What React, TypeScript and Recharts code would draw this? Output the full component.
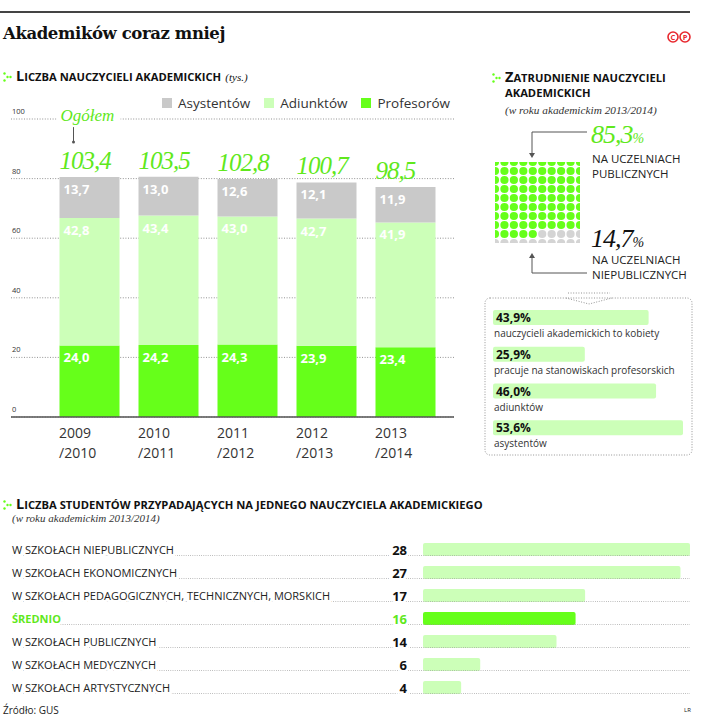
import React from "react";
import {
  BarChart,
  Bar,
  XAxis,
  YAxis,
  CartesianGrid,
  ReferenceLine,
  LabelList,
  ScatterChart,
  Scatter,
  Cell,
} from "recharts";

// --- data ---
const years = ["2009/2010", "2010/2011", "2011/2012", "2012/2013", "2013/2014"];
const profesorow = [24.0, 24.2, 24.3, 23.9, 23.4];
const adiunktow = [42.8, 43.4, 43.0, 42.7, 41.9];
const asystentow = [13.7, 13.0, 12.6, 12.1, 11.9];
const ogolem = [103.4, 103.5, 102.8, 100.7, 98.5];
const yTicks = [0, 20, 40, 60, 80, 100];

const publiczne = 85.3;
const niepubliczne = 14.7;

const boxLabels = [
  "nauczycieli akademickich to kobiety",
  "pracuje na stanowiskach profesorskich",
  "adiunktów",
  "asystentów",
];
const boxValues = [43.9, 25.9, 46.0, 53.6];

const schoolLabels = [
  "W SZKOŁACH NIEPUBLICZNYCH",
  "W SZKOŁACH EKONOMICZNYCH",
  "W SZKOŁACH PEDAGOGICZNYCH, TECHNICZNYCH, MORSKICH",
  "ŚREDNIO",
  "W SZKOŁACH PUBLICZNYCH",
  "W SZKOŁACH MEDYCZNYCH",
  "W SZKOŁACH ARTYSTYCZNYCH",
];
const schoolValues = [28, 27, 17, 16, 14, 6, 4];
const highlight = "ŚREDNIO";

// --- styles ---
const GREEN = "#66ff1a";
const GREEN_TEXT = "#5fe81c";
const LIGHT = "#ccffb8";
const GRAY = "#c9c9c9";
const SANS = "'Open Sans', sans-serif";
const SERIF = "'Liberation Serif', serif";

const series = [
  { key: "asy", name: "Asystentów", color: GRAY },
  { key: "adi", name: "Adiunktów", color: LIGHT },
  { key: "prof", name: "Profesorów", color: GREEN },
];

const mainData = years.map((year, i) => ({
  year,
  prof: profesorow[i],
  adi: adiunktow[i],
  asy: asystentow[i],
  total: ogolem[i],
}));

const waffle = Array.from({ length: 100 }, (_, i) => ({
  col: i % 10,
  row: Math.floor(i / 10),
  pub: i < Math.round(publiczne),
}));

const boxData = boxLabels.map((label, i) => ({ label, value: boxValues[i] }));
const schoolData = schoolLabels.map((label, i) => ({ label, value: schoolValues[i] }));

const fmt = (v: number) => Number(v).toFixed(1).replace(".", ",");

function Marker() {
  return (
    <svg width={9} height={10} style={{ marginRight: 4, verticalAlign: "-1px" }}>
      <circle cx={1.5} cy={1.5} r={1.2} fill={GREEN} />
      <circle cx={4.5} cy={5} r={1.2} fill={GREEN} />
      <circle cx={1.5} cy={8.5} r={1.2} fill={GREEN} />
      <circle cx={7.5} cy={5} r={1.2} fill={GREEN} />
    </svg>
  );
}

// small caps header: first letter big, rest smaller capitals
function Caps({ text }: { text: string }) {
  return (
    <>
      <span style={{ fontSize: 14.5 }}>{text[0].toUpperCase()}</span>
      <span style={{ fontSize: 11.2, textTransform: "uppercase" }}>{text.slice(1)}</span>
    </>
  );
}

const headStyle: React.CSSProperties = {
  position: "absolute",
  fontFamily: SANS,
  fontWeight: 700,
  color: "#111",
  whiteSpace: "nowrap",
  lineHeight: "16px",
};

const subStyle: React.CSSProperties = {
  position: "absolute",
  fontFamily: SERIF,
  fontStyle: "italic",
  fontSize: 11,
  color: "#333",
  whiteSpace: "nowrap",
};

function YearTick(props: any) {
  const { x, payload } = props;
  const [a, b] = String(payload.value).split("/");
  const left = Number(x) - 30;
  return (
    <text fontFamily={SANS} fontSize={14} fill="#333">
      <tspan x={left} y={438}>{a}</tspan>
      <tspan x={left} y={458}>/{b}</tspan>
    </text>
  );
}

function ValueTick(props: any) {
  const { y, payload } = props;
  return (
    <text x={12} y={Number(y) - 5} fontFamily={SANS} fontSize={7.5} fill="#333">
      {payload.value}
    </text>
  );
}

function InnerLabel(props: any) {
  const { x, y, value } = props;
  return (
    <text x={Number(x) + 4} y={Number(y) + 17} fill="#fff" fontFamily={SANS} fontWeight={700} fontSize={13}>
      {fmt(value)}
    </text>
  );
}

function TotalLabel(props: any) {
  const { x, y, value, index } = props;
  const bx = Number(x);
  const by = Number(y);
  return (
    <g>
      {index === 0 && (
        <g>
          <rect x={bx - 3} y={by - 72} width={64} height={20} fill="#fff" />
          <text x={bx + 1} y={by - 56} fill={GREEN_TEXT} fontFamily={SERIF} fontStyle="italic" fontSize={17}>
            Ogółem
          </text>
          <line x1={bx + 14} x2={bx + 14} y1={by - 50} y2={by - 36} stroke="#555" strokeWidth={1} />
          <circle cx={bx + 14} cy={by - 35} r={1.5} fill="#555" />
        </g>
      )}
      <text x={bx} y={by - 8} fill={GREEN_TEXT} fontFamily={SERIF} fontStyle="italic" fontSize={25} letterSpacing={-1}>
        {fmt(value)}
      </text>
    </g>
  );
}

function WaffleDot(props: any) {
  const { cx, cy, payload } = props;
  return <circle cx={cx} cy={cy} r={4.1} fill={payload.pub ? GREEN : "#d4d4d4"} />;
}

function BoxValue(props: any) {
  const { x, y, value } = props;
  return (
    <text x={Number(x) + 3} y={Number(y) + 12} fontFamily={SANS} fontWeight={700} fontSize={12} fill="#111">
      {fmt(value)}%
    </text>
  );
}

function BoxCaption(props: any) {
  const { x, y, height, value } = props;
  return (
    <text x={Number(x) + 1} y={Number(y) + Number(height) + 12} fontFamily={SANS} fontSize={10} fill="#333">
      {value}
    </text>
  );
}

function SchoolTick(props: any) {
  const { y, payload } = props;
  const hi = payload.value === highlight;
  const cy = Number(y);
  return (
    <g>
      <line x1={12} x2={690} y1={cy + 6} y2={cy + 6} stroke="#9a9a9a" strokeWidth={0.8} strokeDasharray="0.8 1.4" />
      <text
        x={12}
        y={cy + 4}
        fontFamily={SANS}
        fontSize={11}
        fontWeight={hi ? 700 : 400}
        fill={hi ? GREEN_TEXT : "#222"}
        stroke="#fff"
        strokeWidth={5}
        paintOrder="stroke"
      >
        {payload.value}
      </text>
    </g>
  );
}

function SchoolValue(props: any) {
  const { x, y, height, value, index } = props;
  const hi = schoolLabels[index] === highlight;
  return (
    <text
      x={Number(x) - 16}
      y={Number(y) + Number(height) / 2 + 5}
      textAnchor="end"
      fontFamily={SANS}
      fontWeight={700}
      fontSize={13}
      fill={hi ? GREEN_TEXT : "#111"}
      stroke="#fff"
      strokeWidth={5}
      paintOrder="stroke"
    >
      {value}
    </text>
  );
}

export default function App() {
  return (
    <div style={{ position: "relative", width: 714, height: 722, background: "#fff", fontFamily: SANS, overflow: "hidden" }}>
      <style>{"body{margin:0}"}</style>

      {/* top rule + title */}
      <div style={{ position: "absolute", left: 0, top: 11, width: 690, height: 1.5, background: "#444" }} />
      <div
        style={{
          position: "absolute",
          left: 3,
          top: 24,
          fontFamily: "'DejaVu Serif', serif",
          fontWeight: 700,
          fontSize: 16.5,
          letterSpacing: -0.4,
          color: "#111",
        }}
      >
        Akademików coraz mniej
      </div>
      <svg width={30} height={16} style={{ position: "absolute", left: 666, top: 29 }}>
        {["C", "P"].map((c, i) => (
          <g key={c}>
            <circle cx={7 + i * 12} cy={8} r={5} fill="none" stroke="#e8282e" strokeWidth={1.6} />
            <text x={7 + i * 12} y={10.8} textAnchor="middle" fontSize={7.5} fontWeight={700} fill="#e8282e" fontFamily={SANS}>
              {c}
            </text>
          </g>
        ))}
      </svg>

      {/* main chart header */}
      <div style={{ ...headStyle, left: 3, top: 67 }}>
        <Marker />
        <Caps text="Liczba nauczycieli akademickich" />{" "}
        <span style={{ fontFamily: SERIF, fontStyle: "italic", fontWeight: 400, fontSize: 11 }}>(tys.)</span>
      </div>

      {/* legend */}
      <div style={{ position: "absolute", left: 162, top: 94, display: "flex", gap: 14, fontSize: 13.5, color: "#333", whiteSpace: "nowrap" }}>
        {series.map((s) => (
          <div key={s.key} style={{ display: "flex", alignItems: "center" }}>
            <span style={{ display: "inline-block", width: 10, height: 10, background: s.color, marginRight: 6 }} />
            {s.name}
          </div>
        ))}
      </div>

      {/* main stacked bars */}
      <div style={{ position: "absolute", left: 0, top: 0 }}>
        <BarChart width={470} height={480} data={mainData} margin={{ top: 119, right: 16, left: 0, bottom: 0 }}>
          <CartesianGrid vertical={false} stroke="#777" strokeWidth={0.8} strokeDasharray="1 1.6" />
          <XAxis
            dataKey="year"
            axisLine={false}
            tickLine={false}
            height={63}
            interval={0}
            padding={{ left: 38.5, right: 9.5 }}
            tick={YearTick}
          />
          <YAxis width={11} domain={[0, 100]} ticks={yTicks} interval={0} axisLine={false} tickLine={false} tick={ValueTick} />
          <Bar dataKey="prof" stackId="a" fill={GREEN} barSize={60} isAnimationActive={false}>
            <LabelList dataKey="prof" content={InnerLabel} />
          </Bar>
          <Bar dataKey="adi" stackId="a" fill={LIGHT} barSize={60} isAnimationActive={false}>
            <LabelList dataKey="adi" content={InnerLabel} />
          </Bar>
          <Bar dataKey="asy" stackId="a" fill={GRAY} barSize={60} isAnimationActive={false}>
            <LabelList dataKey="asy" content={InnerLabel} />
            <LabelList dataKey="total" content={TotalLabel} />
          </Bar>
          <ReferenceLine y={0} stroke="#555" strokeWidth={1.5} />
        </BarChart>
      </div>

      {/* right panel */}
      <div style={{ ...headStyle, left: 492, top: 68 }}>
        <Marker />
        <Caps text="Zatrudnienie nauczycieli" />
      </div>
      <div style={{ ...headStyle, left: 505, top: 85, fontSize: 11.2 }}>AKADEMICKICH</div>
      <div style={{ ...subStyle, left: 505, top: 104, fontSize: 11.3 }}>(w roku akademickim 2013/2014)</div>

      <div style={{ position: "absolute", left: 485, top: 152 }}>
        <ScatterChart width={105} height={101} margin={{ top: 10, right: 10, bottom: 10, left: 10 }}>
          <XAxis type="number" dataKey="col" domain={[0, 9]} allowDataOverflow hide />
          <YAxis type="number" dataKey="row" domain={[0, 9]} allowDataOverflow reversed hide />
          <Scatter data={waffle} shape={WaffleDot} isAnimationActive={false} />
        </ScatterChart>
      </div>

      <svg width={714} height={722} style={{ position: "absolute", left: 0, top: 0, pointerEvents: "none" }}>
        <polyline points="587,132 532,132 532,154" fill="none" stroke="#555" strokeWidth={1} />
        <path d="M529,153 L535,153 L532,158 Z" fill="#555" />
        <polyline points="532,257 532,273 587,273" fill="none" stroke="#555" strokeWidth={1} />
        <path d="M529,258 L535,258 L532,253 Z" fill="#555" />

        <text x={591} y={143} fontFamily={SERIF} fontStyle="italic" fontSize={26} fill={GREEN_TEXT} letterSpacing={-1}>
          {fmt(publiczne)}
          <tspan fontSize={14}>%</tspan>
        </text>
        <text x={592} y={163} fontFamily={SANS} fontSize={11.5} fill="#222">NA UCZELNIACH</text>
        <text x={592} y={178} fontFamily={SANS} fontSize={11.5} fill="#222">PUBLICZNYCH</text>

        <text x={591} y={247} fontFamily={SERIF} fontStyle="italic" fontSize={26} fill="#111" letterSpacing={-1}>
          {fmt(niepubliczne)}
          <tspan fontSize={14}>%</tspan>
        </text>
        <text x={592} y={264} fontFamily={SANS} fontSize={11.5} fill="#222">NA UCZELNIACH</text>
        <text x={592} y={279} fontFamily={SANS} fontSize={11.5} fill="#222">NIEPUBLICZNYCH</text>

        {/* dotted callout box */}
        <rect x={485} y={298} width={207} height={157} rx={5} fill="none" stroke="#888" strokeWidth={0.9} strokeDasharray="1 1.6" />
        <line x1={568} x2={610} y1={293} y2={293} stroke="#888" strokeWidth={0.9} strokeDasharray="1 1.6" />
        <polyline points="566,298 589,304 612,298" fill="none" stroke="#888" strokeWidth={0.9} strokeDasharray="1 1.6" />
      </svg>

      <div style={{ position: "absolute", left: 485, top: 290 }}>
        <BarChart layout="vertical" width={207} height={165} data={boxData} margin={{ top: 9, right: 9, bottom: 9, left: 8 }}>
          <XAxis type="number" domain={[0, 53.6]} allowDataOverflow hide />
          <YAxis type="category" dataKey="label" hide />
          <Bar dataKey="value" fill={LIGHT} barSize={15} radius={2} isAnimationActive={false}>
            <LabelList dataKey="value" content={BoxValue} />
            <LabelList dataKey="label" content={BoxCaption} />
          </Bar>
        </BarChart>
      </div>

      {/* bottom section */}
      <div style={{ ...headStyle, left: 3, top: 495 }}>
        <Marker />
        <Caps text="Liczba studentów przypadających na jednego nauczyciela akademickiego" />
      </div>
      <div style={{ ...subStyle, left: 12, top: 512 }}>(w roku akademickim 2013/2014)</div>

      <div style={{ position: "absolute", left: 0, top: 530 }}>
        <BarChart layout="vertical" width={714} height={180} data={schoolData} margin={{ top: 8, right: 24, bottom: 11, left: 12 }}>
          <XAxis type="number" domain={[0, 28]} allowDataOverflow hide />
          <YAxis type="category" dataKey="label" width={411} axisLine={false} tickLine={false} interval={0} tick={SchoolTick} />
          <Bar dataKey="value" barSize={13} radius={2} isAnimationActive={false}>
            {schoolData.map((d) => (
              <Cell key={d.label} fill={d.label === highlight ? GREEN : LIGHT} />
            ))}
            <LabelList dataKey="value" content={SchoolValue} />
          </Bar>
        </BarChart>
      </div>

      <div style={{ position: "absolute", left: 3, top: 703, fontSize: 10, color: "#222" }}>Źródło: GUS</div>
      <div style={{ position: "absolute", left: 684, top: 706, fontSize: 6, color: "#222" }}>LR</div>
    </div>
  );
}
